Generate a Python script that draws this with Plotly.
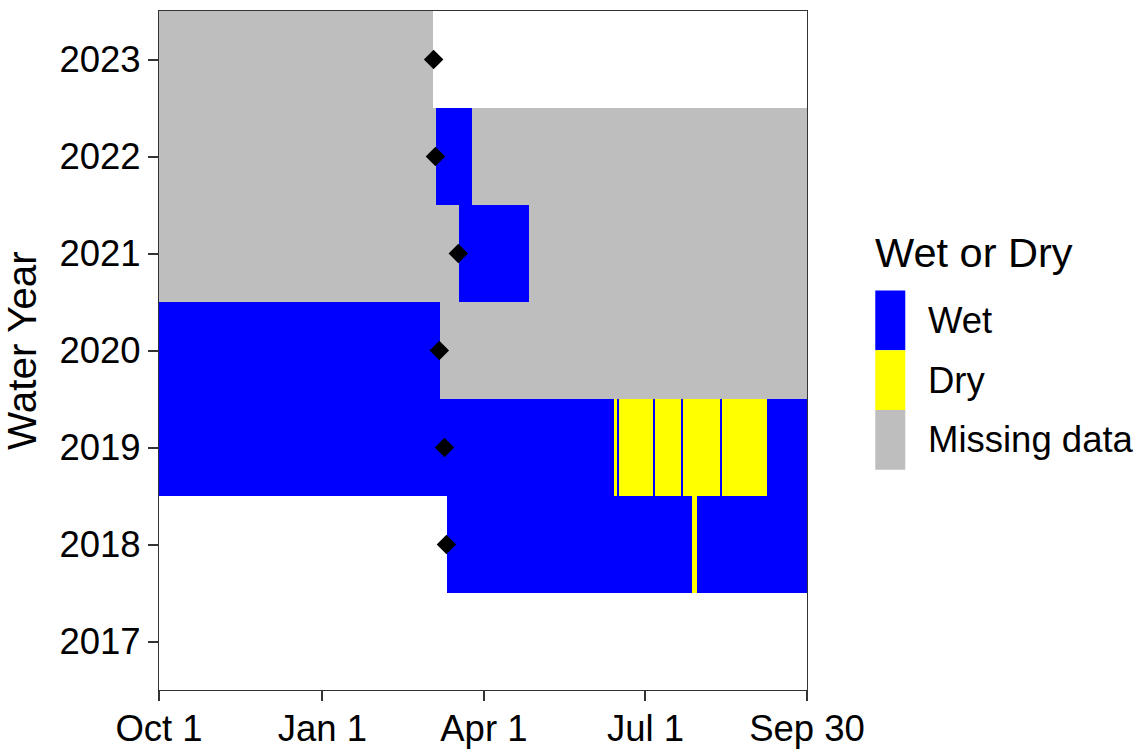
import plotly.graph_objects as go

# water-year day index: 0 = Oct 1, 365 = Sep 30 (leap-year calendar)
tick_days = [0, 92, 183, 274, 365]
tick_labels = ['Oct 1', 'Jan 1', 'Apr 1', 'Jul 1', 'Sep 30']
year_ticks = [2017, 2018, 2019, 2020, 2021, 2022, 2023]

# status runs for each water year (start day, end day)
seg_year = [2023,
            2022, 2022, 2022,
            2021, 2021, 2021,
            2020, 2020,
            2019, 2019, 2019, 2019, 2019, 2019, 2019, 2019, 2019, 2019, 2019,
            2018, 2018, 2018]
seg_start = [0,
             0, 156, 176.5,
             0, 169, 208.5,
             0, 158.5,
             0, 256.5, 258.2, 259.3, 278.4, 279.6, 294.2, 295.4, 316.2, 317.3, 342.6,
             162.5, 300.4, 303.2]
seg_end = [154.5,
           156, 176.5, 365,
           169, 208.5, 365,
           158.5, 365,
           256.5, 258.2, 259.3, 278.4, 279.6, 294.2, 295.4, 316.2, 317.3, 342.6, 365,
           300.4, 303.2, 365]
seg_status = ['Missing data',
              'Missing data', 'Wet', 'Missing data',
              'Missing data', 'Wet', 'Missing data',
              'Wet', 'Missing data',
              'Wet', 'Dry', 'Wet', 'Dry', 'Wet', 'Dry', 'Wet', 'Dry', 'Wet', 'Dry', 'Wet',
              'Wet', 'Dry', 'Wet']

# diamond markers
marker_year = [2023, 2022, 2021, 2020, 2019, 2018]
marker_day = [154.7, 155.7, 168.6, 157.9, 160.8, 161.9]

status_order = ['Wet', 'Dry', 'Missing data']
status_colors = {'Wet': '#0000FF', 'Dry': '#FFFF00', 'Missing data': '#BEBEBE'}

FONT = 'Liberation Sans, Arial, sans-serif'
W, H = 1140, 756
L, R, T, B = 158.5, 333.3, 11, 65.5
pw, ph = W - L - R, H - T - B

fig = go.Figure()

for status in status_order:
    idx = [i for i, s in enumerate(seg_status) if s == status]
    fig.add_trace(go.Bar(
        y=[seg_year[i] for i in idx],
        x=[seg_end[i] - seg_start[i] for i in idx],
        base=[seg_start[i] for i in idx],
        orientation='h', width=1,
        marker=dict(color=status_colors[status], line=dict(width=0)),
        name=status, showlegend=False))

fig.add_trace(go.Scatter(
    x=marker_day, y=marker_year, mode='markers',
    marker=dict(symbol='diamond', size=15, color='black', line=dict(width=0)),
    showlegend=False))

# legend drawn by hand to get the big ggplot keys
def px_x(px):
    return (px - L) / pw

def px_y(py):
    return (H - B - py) / ph

key_top = 290.7
key_h = 59.8
for i, status in enumerate(status_order):
    y0 = key_top + i * key_h
    fig.add_shape(type='rect', xref='paper', yref='paper',
                  x0=px_x(875), x1=px_x(905), y0=px_y(y0 + key_h), y1=px_y(y0),
                  fillcolor=status_colors[status], line=dict(width=0))
    fig.add_annotation(xref='paper', yref='paper', x=px_x(926), y=px_y(y0 + key_h / 2),
                       text=status, showarrow=False, xanchor='left', yanchor='middle',
                       font=dict(size=36.5, color='black', family=FONT))

fig.add_annotation(xref='paper', yref='paper', x=px_x(873), y=px_y(253),
                   text='Wet or Dry', showarrow=False, xanchor='left', yanchor='middle',
                   font=dict(size=41.5, color='black', family=FONT))

fig.add_annotation(xref='paper', yref='paper', x=px_x(21), y=0.5,
                   text='Water Year', showarrow=False, textangle=-90,
                   xanchor='center', yanchor='middle',
                   font=dict(size=40.5, color='black', family=FONT))

axis_style = dict(showgrid=False, zeroline=False, showline=True, mirror=True,
                  linecolor='#333333', linewidth=1.2, ticks='outside', ticklen=10,
                  tickwidth=2, tickcolor='#333333', automargin=False,
                  tickfont=dict(size=36.5, color='black', family=FONT))

fig.update_xaxes(range=[0, 365], tickvals=tick_days, ticktext=tick_labels,
                 ticklabelstandoff=-4, **axis_style)
fig.update_yaxes(range=[2016.5, 2023.5], tickvals=year_ticks,
                 ticklabelstandoff=0, **axis_style)

fig.update_layout(
    width=W, height=H,
    margin=dict(l=L, r=R, t=T, b=B),
    barmode='overlay',
    bargap=0,
    plot_bgcolor='white',
    paper_bgcolor='white',
    font=dict(family=FONT, color='black'),
    showlegend=False)

# drop the default page margin so the figure fills the window
fig.write_html('out.html', config={'displayModeBar': False},
               post_script="document.body.style.margin='0';")
